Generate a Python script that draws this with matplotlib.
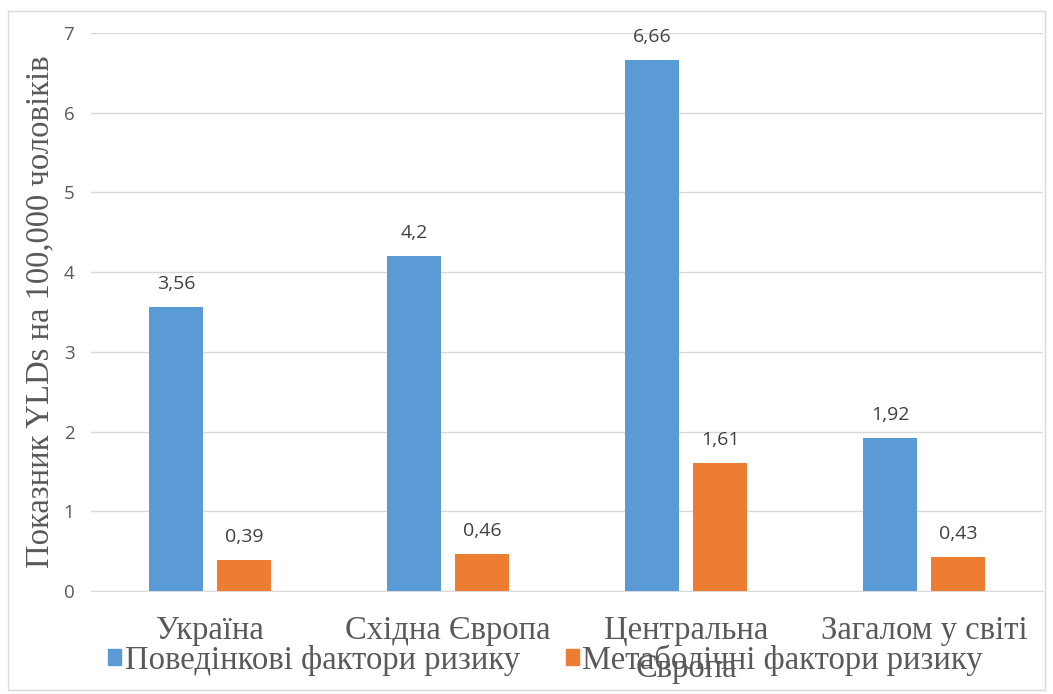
import numpy as np
import matplotlib
matplotlib.use("Agg")
import matplotlib.pyplot as plt
from matplotlib.patches import Rectangle, Patch

# Дані
categories = ["Україна", "Східна Європа", "Центральна\nЄвропа", "Загалом у світі"]
behavioral = [3.56, 4.2, 6.66, 1.92]
metabolic = [0.39, 0.46, 1.61, 0.43]
series_names = ["Поведінкові фактори ризику", "Метаболічні фактори ризику"]
y_ticks = [0, 1, 2, 3, 4, 5, 6, 7]

BLUE = "#5B9BD5"
ORANGE = "#ED7D31"
SERIF = "Liberation Serif"
SANS = "Open Sans"

fig = plt.figure(figsize=(10.53, 6.94), dpi=100)
ax = fig.add_axes([91 / 1053, 1 - 591 / 694, (1043 - 91) / 1053, (591 - 33) / 694])

x = np.arange(len(categories))
w = 0.227
off = 0.143
b1 = ax.bar(x - off, behavioral, w, color=BLUE, zorder=3)
b2 = ax.bar(x + off, metabolic, w, color=ORANGE, zorder=3)

def fmt(v):
    return f"{v:g}".replace(".", ",")

for bars, vals in ((b1, behavioral), (b2, metabolic)):
    for r, v in zip(bars, vals):
        ax.annotate(fmt(v), (r.get_x() + r.get_width() / 2, v), xytext=(0, 10),
                    textcoords="offset points", ha="center", va="bottom",
                    fontsize=14, color="#404040", family=SANS)

ax.set_xlim(-0.5, len(categories) - 0.5)
ax.set_ylim(0, 7)
ax.set_yticks(y_ticks)
ax.set_yticklabels([str(t) for t in y_ticks], family=SANS, fontsize=13.5, color="#595959")
ax.set_xticks(x)
ax.set_xticklabels(categories, family=SERIF, fontsize=23.5, color="#595959", linespacing=1.3)
ax.tick_params(axis="both", length=0)
ax.tick_params(axis="x", pad=18)
ax.tick_params(axis="y", pad=12)
ax.grid(axis="y", color="#D9D9D9", lw=1, zorder=0)
for s in ("top", "right", "left"):
    ax.spines[s].set_visible(False)
ax.spines["bottom"].set_color("#D9D9D9")

ax.set_ylabel("Показник YLDs на 100,000 чоловіків", family=SERIF, fontsize=23.5,
              color="#595959")
ax.yaxis.set_label_coords(-36 / 952, 0.5)

handles = [Patch(color=BLUE), Patch(color=ORANGE)]
fig.legend(handles, series_names, loc="center left", bbox_to_anchor=(79 / 1053, 1 - 660 / 694),
           ncol=2, frameon=False, prop={"family": SERIF, "size": 23.5},
           handlelength=0.4, handleheight=0.4, handletextpad=0.1, columnspacing=1.4,
           labelcolor="#595959")

fig.patches.append(Rectangle((8 / 1053, 4 / 694), 1037 / 1053, 679 / 694, transform=fig.transFigure,
                             fill=False, edgecolor="#D9D9D9", lw=1))

fig.savefig("out.png", dpi=100)
